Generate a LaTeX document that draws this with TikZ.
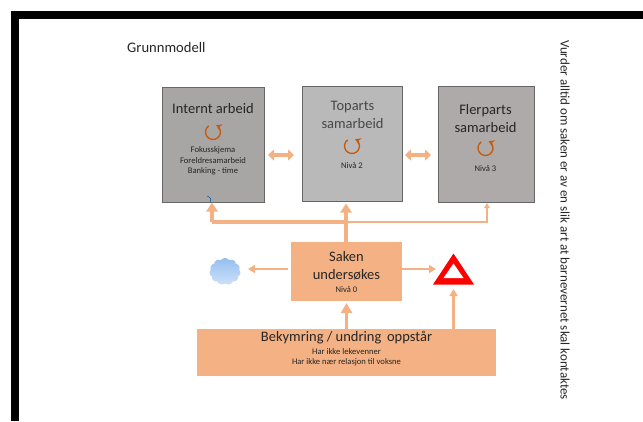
\documentclass[tikz,border=0pt]{standalone}
\usepackage{fontspec}
\setmainfont{Carlito}
\usetikzlibrary{arrows.meta,shapes.symbols}
\definecolor{peach}{RGB}{244,177,131}
\definecolor{rot}{RGB}{197,90,17}
\definecolor{txt}{RGB}{38,38,38}
\definecolor{greyA}{RGB}{168,165,165}
\definecolor{greyB}{RGB}{185,185,185}
\definecolor{greyC}{RGB}{173,170,169}
\definecolor{cloudtop}{RGB}{150,190,240}
\definecolor{cloudbot}{RGB}{205,225,250}
\tikzset{
 greybox/.style={draw=black!60,line width=0.8pt,minimum width=#1,anchor=north west,inner sep=0pt},
 peachbox/.style={fill=peach,draw=none,anchor=north west,inner sep=0pt},
 lbl/.style={text=txt,align=center,inner sep=0pt},
 big/.style={font=\fontsize{14.5}{18}\selectfont},
 small/.style={font=\fontsize{8.6}{10.5}\selectfont},
 thickar/.style={draw=peach,line width=3.5pt,-{Triangle[length=9pt,width=11pt]}},
 medar/.style={draw=peach,line width=2.4pt,-{Triangle[length=7pt,width=8pt]}},
 bigar/.style={draw=peach,line width=3pt,-{Triangle[length=10pt,width=11pt]}},
 thinar/.style={draw=peach,line width=1.6pt,-{Triangle[length=5pt,width=5.5pt]}},
 dblar/.style={draw=peach,line width=4pt,{Triangle[length=6pt,width=11pt]}-{Triangle[length=6pt,width=11pt]}},
 rotar/.style={draw=rot,line width=1.3pt,-{Stealth[length=5.5pt,width=7pt]}}
}
\begin{document}
\begin{tikzpicture}[x=1pt,y=-1pt]
\useasboundingbox (0,0) rectangle (643,421);
\fill[white] (0,0) rectangle (643,421);
\fill[black] (11,11) rectangle (643,19);
\fill[black] (11,11) rectangle (19,421);

\node[lbl,anchor=west,font=\fontsize{14.6}{17}\selectfont] (title) at (127,47) {Grunnmodell};

\node[greybox=102pt,minimum height=115pt,fill=greyA] (intern) at (162,86.5) {};
\node[greybox=100pt,minimum height=115pt,fill=greyB] (topart) at (302,86) {};
\node[greybox=96pt,minimum height=116pt,fill=greyC] (flerpart) at (438,86) {};

\node[lbl,big] (t1) at (213,109) {Internt arbeid};
\node[lbl,big,text=txt!85] (t2) at (352.5,115) {Toparts\\samarbeid};
\node[lbl,big] (t3) at (485.5,119) {Flerparts\\samarbeid};

\node[lbl,small] (s1) at (213,161) {Fokusskjema\\Foreldresamarbeid\\Banking - time};
\node[lbl,small] (s2) at (352,165) {Nivå 2};
\node[lbl,small] (s3) at (485.5,168) {Nivå 3};

\draw[rotar] (213,132) ++(-125:7.5) arc[start angle=-125,end angle=-425,radius=7.5];
\draw[rotar] (352,146) ++(-125:7.5) arc[start angle=-125,end angle=-425,radius=7.5];
\draw[rotar] (485.5,148) ++(-125:7.5) arc[start angle=-125,end angle=-425,radius=7.5];

\node[peachbox,minimum width=111pt,minimum height=59pt] (saken) at (291,242) {};
\node[peachbox,minimum width=299pt,minimum height=47pt] (bekym) at (197,329) {};
\node[lbl,big] (t4) at (346.5,266) {Saken\\undersøkes};
\node[lbl,small] (s4) at (346.5,289) {Nivå 0};
\node[lbl,big] (t5) at (346.5,338) {Bekymring / undring\, oppstår};
\node[lbl,small] (s5) at (346.5,357) {Har ikke lekevenner\\Har ikke nær relasjon til voksne};

\fill[red] (453.5,253.5) -- (474,284.5) -- (433,284.5) -- cycle;
\fill[white] (453.5,263.5) -- (463.5,278) -- (443.5,278) -- cycle;
\node[cloud,cloud puffs=11,cloud puff arc=110,aspect=1.1,top color=cloudtop,bottom color=cloudbot,draw=none,minimum width=31pt,minimum height=27pt,inner sep=0pt] (cloud) at (225,271.5) {};

\node[rotate=-90,lbl,anchor=center,font=\fontsize{13}{15}\selectfont] (side) at (565,220) {Vurder alltid om saken er av en slik art at barnevernet skal kontaktes};

\coordinate (busL) at (212,222);
\coordinate (busM) at (346,222);
\coordinate (busR) at (487,222);
\coordinate (cloudEnd) at (248,269);
\coordinate (sakenL) at (288,269);
\coordinate (sakenR) at (402,269);
\coordinate (triL) at (436,269);
\coordinate (triB) at (453.5,289);
\coordinate (bekR) at (453.5,329);
\coordinate (sakenB) at (346.5,303);
\coordinate (bekM) at (346.5,329);

\draw[dblar] (268,155) -- (294,155);
\draw[dblar] (405,155) -- (431,155);
\draw[thickar] (346,242) -- (346,203.5);
\draw[peach,line width=3.5pt] (busM) -- (busL);
\draw[thickar] (busL) -- (212,202.5);
\draw[thinar] (busM) -- (busR) -- (487,203);
\draw[medar] (sakenL) -- (cloudEnd);
\draw[medar] (sakenR) -- (triL);
\draw[bigar] (bekM) -- (sakenB);
\draw[medar] (bekR) -- (triB);
\draw[blue!45!cyan!60!black,line width=.5pt] (207,196) .. controls (210,197) and (212,199) .. (210,202);
\end{tikzpicture}
\end{document}
